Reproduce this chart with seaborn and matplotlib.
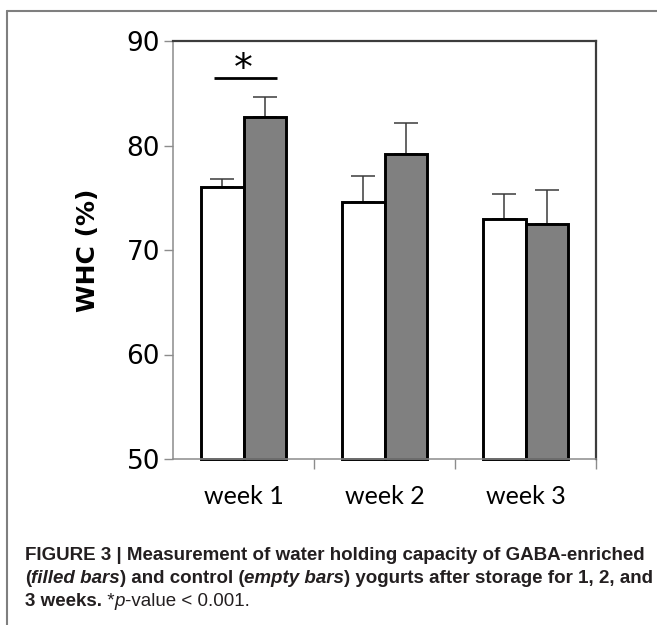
import numpy as np
import pandas as pd
import matplotlib
matplotlib.use("Agg")
import matplotlib.pyplot as plt
import seaborn as sns
from matplotlib.lines import Line2D

# ---------------- data ----------------
weeks = ["week 1", "week 2", "week 3"]
groups = ["control", "GABA"]
control_whc = [76.0, 74.6, 73.0]
control_err = [0.8, 2.5, 2.4]
gaba_whc = [82.7, 79.2, 72.5]
gaba_err = [1.9, 3.0, 3.2]
y_ticks = [50, 60, 70, 80, 90]
y_label = "WHC (%)"
sig_label = "*"
sig_level = 86.5

caption_lines = [
    [("FIGURE 3 | Measurement of water holding capacity of GABA-enriched", "bold", "normal")],
    [("(", "bold", "normal"), ("filled bars", "bold", "italic"),
     (") and control (", "bold", "normal"), ("empty bars", "bold", "italic"),
     (") yogurts after storage for 1, 2, and", "bold", "normal")],
    [("3 weeks.", "bold", "normal"), (" *", "normal", "normal"),
     ("p", "normal", "italic"), ("-value < 0.001.", "normal", "normal")],
]

# ---------------- figure ----------------
sns.set_theme(style="white")
plt.rcParams["font.family"] = ["DejaVu Sans"]

W, H, DPI = 657, 625, 100
fig = plt.figure(figsize=(W / DPI, H / DPI), dpi=DPI)
fig.patch.set_facecolor("white")
ax = fig.add_axes([173 / W, 1 - 459 / H, (596 - 173) / W, (459 - 41) / H])

df = pd.DataFrame({
    "week": weeks * 2,
    "group": [groups[0]] * len(weeks) + [groups[1]] * len(weeks),
    "whc": control_whc + gaba_whc,
})
sns.barplot(data=df, x="week", y="whc", hue="group", order=weeks, hue_order=groups,
            palette={"control": "white", "GABA": "#808080"}, saturation=1,
            edgecolor="black", linewidth=2.1, width=0.6, errorbar=None,
            legend=False, ax=ax)

ymin, ymax = y_ticks[0], y_ticks[-1]
ax.set_ylim(ymin, ymax)
ax.set_xlim(-0.5, len(weeks) - 0.5)

# rebase bars on the axis floor so their bottom edges show
patches = sorted(ax.patches, key=lambda p: p.get_x())
for p in patches:
    top = p.get_y() + p.get_height()
    p.set_y(ymin)
    p.set_height(top - ymin)
    p.set_clip_on(False)
    p.set_zorder(2)

xs = [p.get_x() + p.get_width() / 2 for p in patches]
tops = [p.get_y() + p.get_height() for p in patches]
errs = [e for pair in zip(control_err, gaba_err) for e in pair]
ax.errorbar(xs, tops, yerr=[np.zeros(len(errs)), errs], fmt="none",
            ecolor="#3a3a3a", elinewidth=1.1, capsize=8.6, capthick=1.1, zorder=1)

# significance marker over week 1
ax.plot([-0.21, 0.24], [sig_level, sig_level], color="black", lw=2.0,
        solid_capstyle="butt", zorder=3)
ax.text(0.0, sig_level - 0.25, sig_label, ha="center", va="baseline",
        fontsize=27, color="black", zorder=3)

# spines
for s in ["left", "bottom"]:
    ax.spines[s].set_color("#8c8c8c")
    ax.spines[s].set_linewidth(1.1)
for s in ["top", "right"]:
    ax.spines[s].set_color("#3c3c3c")
    ax.spines[s].set_linewidth(1.6)
    ax.spines[s].set_visible(True)

# y axis
ax.set_yticks(y_ticks)
ax.tick_params(axis="y", left=True, length=6.5, width=1.0, color="#8c8c8c",
               pad=2.9, labelsize=19, labelcolor="black", direction="out")
ax.set_ylabel(y_label, fontsize=18, fontweight="bold", color="black")
ax.yaxis.set_label_coords(-0.172, 0.5)

# x axis
ax.set_xticks(range(len(weeks)))
ax.set_xticklabels(weeks, fontfamily=["Lato", "DejaVu Sans"], fontsize=18, color="black")
ax.tick_params(axis="x", which="major", bottom=True, length=0, pad=19)
ax.set_xticks([i + 0.5 for i in range(len(weeks))], minor=True)
ax.tick_params(axis="x", which="minor", bottom=True, length=7.2, width=1.0,
               color="#8c8c8c", direction="out")
ax.set_xlabel("")

# outer frame (top and left borders)
fig.add_artist(Line2D([7 / W, 1], [1 - 11 / H, 1 - 11 / H], transform=fig.transFigure,
                      color="#7f7f7f", lw=1.5))
fig.add_artist(Line2D([7 / W, 7 / W], [0, 1 - 11 / H], transform=fig.transFigure,
                      color="#7f7f7f", lw=1.5))

# caption (rich text built from segments)
cap_family = "Liberation Sans"
renderer = fig.canvas.get_renderer()


def seg_width(s, size, weight, style):
    kw = dict(fontsize=size, fontweight=weight, fontstyle=style, family=cap_family)
    t1 = fig.text(0, 0, s + "|", **kw)
    t2 = fig.text(0, 0, "|", **kw)
    w = t1.get_window_extent(renderer).width - t2.get_window_extent(renderer).width
    t1.remove()
    t2.remove()
    return w


base = 13.0
line1_w = sum(seg_width(s, base, wt, st) for s, wt, st in caption_lines[0])
cap_size = base * 620.0 / line1_w
cap_color = "#231f20"
x0 = 25
baselines = [560, 583, 606]
for segs, yb in zip(caption_lines, baselines):
    x = x0
    for s, wt, st in segs:
        fig.text(x / W, 1 - yb / H, s, fontsize=cap_size, fontweight=wt, fontstyle=st,
                 family=cap_family, color=cap_color, ha="left", va="baseline")
        x += seg_width(s, cap_size, wt, st)

fig.savefig("out.png", dpi=DPI, facecolor="white")
